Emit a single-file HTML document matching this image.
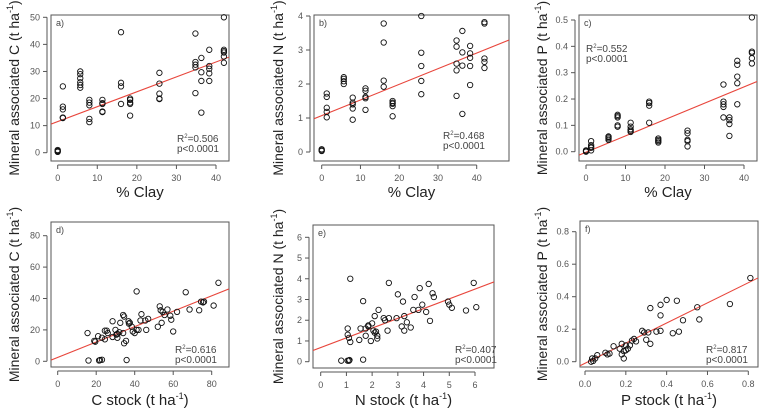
<!DOCTYPE html>
<html><head><meta charset="utf-8"><style>
body{margin:0;background:#fff}
svg{display:block;font-family:"Liberation Sans",sans-serif}
</style></head><body>
<svg id="c" width="759" height="410" viewBox="0 0 759 410"></svg>
<script>
const clayX=[0,1.3,5.7,8,11.3,16,18.3,25.7,34.8,36.3,38.3,42];
const aY=[[0.5,1,0.7,0.3],[24.5,17,16,13,12.8],[30,29,27.5,26,25,24],[19.5,18.5,17.5,12.5,11.3],[19.5,18,15.2,15,18.3],[44.5,25.8,24.5,18],[20,19.5,18.5,18,13.7],[29.5,25.5,21.8,20,19.8],[44,33.5,32.5,31.5,22],[35,29.7,26.5,14.8],[38,32,31,29.3,26.5],[50,38,37.5,37,35.5,33.2]];
const bY=[[0.05,0.08,0.03],[1.72,1.62,1.3,1.18,1.02],[2.2,2.15,2.08,2.0],[1.6,1.45,1.4,1.28,0.95],[1.87,1.8,1.62,1.58,1.24],[3.78,3.22,2.1,1.92],[1.5,1.45,1.42,1.35,1.05],[4.0,2.92,2.53,2.09,1.7],[3.28,3.1,2.6,2.4,1.65],[3.56,2.93,2.54,1.12],[3.12,2.9,2.77,2.53,1.97],[3.82,3.78,2.75,2.65,2.47]];
const cY=[[0.003,0.005,0],[0.04,0.025,0.018,0.015,0.005],[0.058,0.055,0.05,0.045],[0.14,0.135,0.13,0.1,0.095],[0.11,0.095,0.085,0.08,0.075],[0.19,0.185,0.175,0.11],[0.05,0.045,0.04,0.035],[0.08,0.07,0.045,0.04,0.02],[0.255,0.19,0.18,0.17,0.13],[0.13,0.12,0.105,0.06],[0.345,0.33,0.285,0.26,0.18],[0.51,0.38,0.375,0.355,0.335]];
const dX=[15.5,16,19,19.5,21,21.5,22,23,23,24.5,24.5,25.5,26,28.5,28.5,30,30.5,31,31,32,32.5,34,34,34.5,34.5,35.5,35.8,36.8,37,37.5,38.5,39,40,41,41,42,43,43.5,45.5,46,47,52,53,53.5,54,54.5,55.5,57,58.5,59,60,62,66.5,68.5,73.5,74.5,75.5,76,81,83.5];
const dY=[18,0.5,13,12.5,16,0.5,0.8,1,15,19.5,14,19.5,18,25.5,15.5,20,17,17.5,15,18.5,24.5,18,29.5,28.5,11.5,13,0.8,25.5,24,24.5,22,19,18,44.5,20,20,26,30,26,20,27,22,35,32.5,24.5,31.5,29.5,33,29,26.5,19,31.5,44,33,32.5,38,37.5,38,35.5,50];
const eX=[0.8,1.05,1.1,1.12,1.05,1.05,1.1,1.15,1.15,1.65,1.5,1.55,1.65,1.75,1.75,1.85,1.85,1.95,2.0,2.05,2.1,2.1,2.15,2.2,2.2,2.25,2.45,2.5,2.6,2.65,2.65,2.95,3.0,3.15,3.2,3.25,3.25,3.35,3.5,3.6,3.65,3.8,3.85,3.95,4.1,4.2,4.25,4.35,4.4,4.95,5.0,5.1,5.65,5.95,6.05];
const eY=[0.05,0.05,0.05,0.08,1.6,1.3,1.15,0.95,4.0,2.92,1.05,1.6,0.1,1.25,1.6,1.75,1.7,1.0,1.85,1.5,1.4,2.2,1.45,1.25,1.12,2.5,2.1,2.0,1.5,3.8,2.1,2.1,3.25,1.7,2.9,2.2,1.5,1.9,1.65,2.5,3.12,2.5,3.55,2.75,2.4,3.75,1.97,3.3,3.12,2.9,2.75,2.6,2.47,3.8,2.63];
const fX=[0.03,0.035,0.04,0.05,0.06,0.1,0.11,0.12,0.14,0.17,0.18,0.18,0.19,0.19,0.2,0.2,0.21,0.22,0.23,0.24,0.25,0.28,0.29,0.3,0.31,0.32,0.32,0.35,0.37,0.37,0.37,0.4,0.43,0.45,0.46,0.48,0.55,0.56,0.71,0.81];
const fY=[0.0,0.02,0.005,0.02,0.04,0.055,0.045,0.05,0.095,0.08,0.11,0.045,0.02,0.065,0.1,0.07,0.08,0.1,0.13,0.14,0.125,0.19,0.18,0.135,0.18,0.11,0.33,0.185,0.35,0.285,0.19,0.38,0.175,0.375,0.185,0.255,0.335,0.26,0.355,0.515];
const fitA=[11.5,0.55],fitB=[1.07,0.046],fitC=[-0.002,0.0062],fitD=[2.5,0.49],fitE=[0.68,0.47],fitF=[-0.01,0.62];
const xtA=[0,10,20,30,40],ytA=[0,10,20,30,40,50];
const ytB=[0,1,2,3,4];
const ytC=["0.0","0.1","0.2","0.3","0.4","0.5"];
const xtD=[0,20,40,60,80],ytD=[0,20,40,60,80];
const xtE=[0,1,2,3,4,5,6],ytE=[0,1,2,3,4,5,6];
const xtF=["0.0","0.2","0.4","0.6","0.8"],ytF=["0.0","0.2","0.4","0.6","0.8"];

const NS="http://www.w3.org/2000/svg",svg=document.getElementById('c');
function mk(t,a,p){const e=document.createElementNS(NS,t);for(const k in a)e.setAttribute(k,a[k]);(p||svg).appendChild(e);return e;}
function flat(xs,ys){const X=[],Y=[];xs.forEach((x,i)=>ys[i].forEach(y=>{X.push(x);Y.push(y);}));return [X,Y];}
function panel(o){
 const g=mk('g',{});
 
 
 const sx=v=>o.x0+(v-o.xv0)*(o.x1-o.x0)/(o.xv1-o.xv0);
 const sy=v=>o.y0+(v-o.yv0)*(o.y1-o.y0)/(o.yv1-o.yv0);
 const b=mk('rect',{x:o.L,y:o.T,width:o.R-o.L,height:o.B-o.T,fill:'none',stroke:'#555','stroke-width':1},g);
 
 const xa=mk('g',{},g);
 mk('line',{x1:sx(+o.xt[0]),x2:sx(+o.xt[o.xt.length-1]),y1:o.B+4,y2:o.B+4,stroke:'#555'},xa);
 o.xt.forEach(t=>{const X=sx(+t);mk('line',{x1:X,x2:X,y1:o.B+4,y2:o.B+8,stroke:'#555'},xa);
  const tx=mk('text',{x:X,y:o.B+20,'font-size':9,fill:'#555','text-anchor':'middle'},xa);tx.textContent=t;
  });
 const ya=mk('g',{},g);
 mk('line',{y1:sy(+o.yt[0]),y2:sy(+o.yt[o.yt.length-1]),x1:o.L-4,x2:o.L-4,stroke:'#555'},ya);
 o.yt.forEach(t=>{const Y=sy(+t);mk('line',{y1:Y,y2:Y,x1:o.L-4,x2:o.L-8,stroke:'#555'},ya);
  const tx=mk('text',{x:o.L-11,y:Y+3,'font-size':9,fill:'#555','text-anchor':'end'},ya);tx.textContent=t;
  });
 const cp=mk('clipPath',{id:'cp'+o.id},g);mk('rect',{x:o.L,y:o.T,width:o.R-o.L,height:o.B-o.T},cp);
 const xl=o.xv0-(o.x0-o.L)*(o.xv1-o.xv0)/(o.x1-o.x0), xr=o.xv0+(o.R-o.x0)*(o.xv1-o.xv0)/(o.x1-o.x0);
 const fl=mk('line',{x1:o.L,x2:o.R,y1:sy(o.fit[0]+o.fit[1]*xl),y2:sy(o.fit[0]+o.fit[1]*xr),stroke:'#e8463c','stroke-width':1.1,'clip-path':'url(#cp'+o.id+')'},g);
 
 o.X.forEach((x,i)=>{const c=mk('circle',{cx:sx(x),cy:sy(o.Y[i]),r:2.7,fill:'none',stroke:'#111','stroke-width':0.9},g);
  });
 const pl=mk('text',{x:o.L+5,y:o.T+11,'font-size':9,fill:'#444'},g);pl.textContent=o.id+')';
 
 const st=mk('text',{x:o.sx,y:o.sy,'font-size':10,fill:'#444'},g);
 
 st.innerHTML='R<tspan font-size="6" dy="-4">2</tspan><tspan dy="4">='+o.r2+'</tspan>';
 const pv=mk('text',{x:o.sx,y:o.sy+10,'font-size':10,fill:'#444'},g);pv.textContent='p<0.0001';
 
 const yl=mk('text',{x:0,y:0,'font-size':14,fill:'#222','text-anchor':'middle',transform:`translate(${o.ylx},${(o.T+o.B)/2}) rotate(-90)`},g);
 yl.innerHTML=o.yl+' (t ha<tspan font-size="9" dy="-6">-1</tspan><tspan dy="6">)</tspan>';
 
 const xlb=mk('text',{x:(o.L+o.R)/2,y:o.xly,'font-size':15,fill:'#222','text-anchor':'middle'},g);
 xlb.innerHTML=o.xl;
 
}
let p;
p=flat(clayX,aY);
panel({id:'a',L:51,R:229,T:15,B:161,x0:57.7,x1:216,xv0:0,xv1:40,y0:152.7,y1:17.3,yv0:0,yv1:50,xt:xtA,yt:ytA,X:p[0],Y:p[1],fit:fitA,r2:'0.506',sx:177,sy:142,ylx:19,yl:'Mineral associated C',xl:'% Clay',xly:197});
p=flat(clayX,bY);
panel({id:'b',L:314,R:509,T:15,B:161,x0:321.7,x1:476.7,xv0:0,xv1:40,y0:152,y1:16,yv0:0,yv1:4,xt:xtA,yt:ytB,X:p[0],Y:p[1],fit:fitB,r2:'0.468',sx:443,sy:139,ylx:283,yl:'Mineral associated N',xl:'% Clay',xly:197});
p=flat(clayX,cY);
panel({id:'c',L:579,R:757,T:15,B:161,x0:586,x1:744,xv0:0,xv1:40,y0:151.7,y1:20,yv0:0,yv1:0.5,xt:xtA,yt:ytC,X:p[0],Y:p[1],fit:fitC,r2:'0.552',sx:586,sy:52,ylx:547,yl:'Mineral associated P',xl:'% Clay',xly:197});
panel({id:'d',L:51,R:229,T:222,B:367,x0:57.7,x1:211.7,xv0:0,xv1:80,y0:361.3,y1:235.7,yv0:0,yv1:80,xt:xtD,yt:ytD,X:dX,Y:dY,fit:fitD,r2:'0.616',sx:175,sy:353,ylx:19,yl:'Mineral associated C',xl:'C stock (t ha<tspan font-size="9" dy="-6">-1</tspan><tspan dy="6">)</tspan>',xly:405});
panel({id:'e',L:313,R:494,T:225,B:368,x0:320.7,x1:475,xv0:0,xv1:6,y0:361.7,y1:237.3,yv0:0,yv1:6,xt:xtE,yt:ytE,X:eX,Y:eY,fit:fitE,r2:'0.407',sx:455,sy:353,ylx:283,yl:'Mineral associated N',xl:'N stock (t ha<tspan font-size="9" dy="-6">-1</tspan><tspan dy="6">)</tspan>',xly:405});
panel({id:'f',L:580,R:758,T:221,B:367,x0:585,x1:748.3,xv0:0,xv1:0.8,y0:361.7,y1:231.7,yv0:0,yv1:0.8,xt:xtF,yt:ytF,X:fX,Y:fY,fit:fitF,r2:'0.817',sx:706,sy:353,ylx:547,yl:'Mineral associated P',xl:'P stock (t ha<tspan font-size="9" dy="-6">-1</tspan><tspan dy="6">)</tspan>',xly:405});
</script>
</body></html>
